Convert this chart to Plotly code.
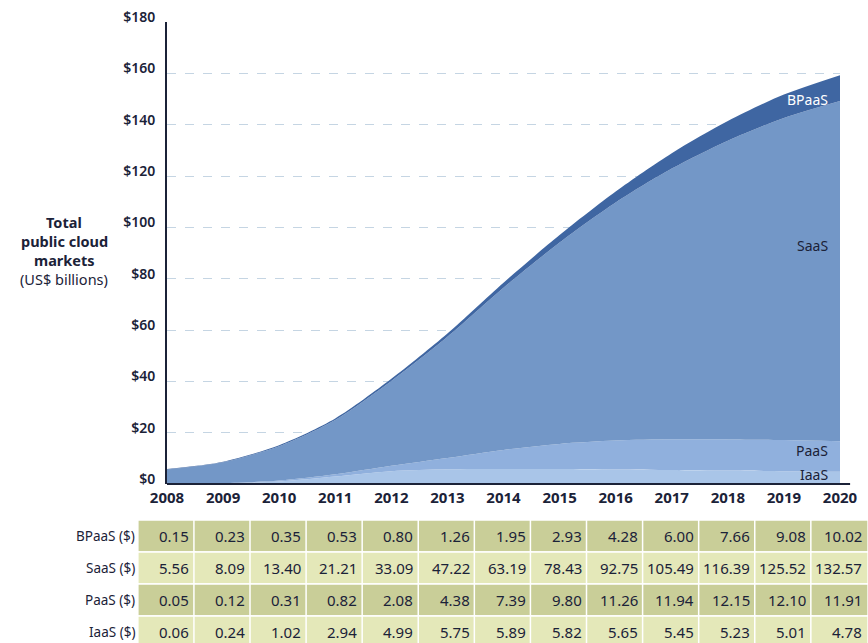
import plotly.graph_objects as go

years = list(range(2008, 2021))
bpaas = [0.15, 0.23, 0.35, 0.53, 0.80, 1.26, 1.95, 2.93, 4.28, 6.00, 7.66, 9.08, 10.02]
saas = [5.56, 8.09, 13.40, 21.21, 33.09, 47.22, 63.19, 78.43, 92.75, 105.49, 116.39, 125.52, 132.57]
paas = [0.05, 0.12, 0.31, 0.82, 2.08, 4.38, 7.39, 9.80, 11.26, 11.94, 12.15, 12.10, 11.91]
iaas = [0.06, 0.24, 1.02, 2.94, 4.99, 5.75, 5.89, 5.82, 5.65, 5.45, 5.23, 5.01, 4.78]
row_labels = ["BPaaS ($)", "SaaS ($)", "PaaS ($)", "IaaS ($)"]
rows = [bpaas, saas, paas, iaas]
y_ticks = list(range(0, 181, 20))

W, H = 868, 643
FONT = "Noto Sans"
DARK = "#1b2238"

fig = go.Figure()
series = [("IaaS", iaas, "#a9c5e8"), ("PaaS", paas, "#90b0dd"),
          ("SaaS", saas, "#7397c7"), ("BPaaS", bpaas, "#3f66a2")]
for name, vals, col in series:
    fig.add_trace(go.Scatter(x=years, y=vals, name=name, stackgroup="one",
                             mode="lines", line=dict(width=0, shape="spline", smoothing=0.8),
                             fillcolor=col, hoverinfo="x+y+name"))

# main axis pixel geometry
x_left, x_right = 167, 840
y_top, y_bot = 22, 484
px_per_year = (x_right - x_left) / (years[-1] - years[0])
r0 = years[0] - x_left / px_per_year
r1 = r0 + W / px_per_year

layout = dict(
    width=W, height=H, margin=dict(l=0, r=0, t=0, b=0, autoexpand=False),
    paper_bgcolor="white", plot_bgcolor="white", showlegend=False,
    font=dict(family=FONT, color=DARK),
    xaxis=dict(domain=[x_left / W, x_right / W], range=[years[0], years[-1]],
               tickvals=years, ticktext=[str(y) for y in years], automargin=False,
               tickfont=dict(size=15, weight="bold", color=DARK),
               showgrid=False, zeroline=False, showline=False, ticks="",
               ticklabelstandoff=3),
    yaxis=dict(domain=[(H - y_bot) / H, (H - y_top) / H], range=[0, 180], automargin=False,
               tickvals=y_ticks, ticktext=["$%d" % v for v in y_ticks],
               tickfont=dict(size=14, color=DARK, weight=600),
               showgrid=True, gridcolor="#c5d5e3", griddash="dash", gridwidth=1,
               zeroline=False, showline=True, linecolor=DARK, linewidth=2,
               ticks="", ticklabelstandoff=7, ticklabelshift=-5),
    xaxis2=dict(domain=[0, 1], range=[r0, r1], visible=False, anchor="y2", automargin=False),
    yaxis2=dict(domain=[0, (H - 520) / H], range=[-0.5 + 123 / 32, -0.5],
                visible=False, anchor="x2", automargin=False),
)
fig.update_layout(**layout)

# x axis line (extends slightly past the data)
fig.add_shape(type="line", xref="x2", yref="paper", x0=years[0], x1=years[-1] + 0.18,
              y0=(H - y_bot) / H, y1=(H - y_bot) / H, line=dict(color=DARK, width=2))

# table cells
row_colors = ["#c9ce98", "#e4e8b9", "#c9ce98", "#e4e8b9"]
shapes = []
annotations = []
for i, (lab, vals) in enumerate(zip(row_labels, rows)):
    for yr, v in zip(years, vals):
        shapes.append(dict(type="rect", xref="x2", yref="y2",
                           x0=yr - 0.52, x1=yr + 0.5, y0=i - 0.5, y1=i + 0.5,
                           fillcolor=row_colors[i], line=dict(color="white", width=1.5),
                           layer="below"))
        annotations.append(dict(xref="x2", yref="y2", x=yr + 0.43, y=i,
                                text="%.2f" % v, showarrow=False, xanchor="right",
                                yanchor="middle", font=dict(size=15, color=DARK)))
    annotations.append(dict(xref="x2", yref="y2", x=years[0] - 0.54, y=i,
                            text=lab, showarrow=False, xanchor="right", yanchor="middle",
                            font=dict(size=13.5, color=DARK)))
for s in shapes:
    fig.add_shape(**s)

# series labels
lab_pos = [("BPaaS", 150, "white"), ("SaaS", 93, DARK), ("PaaS", 13, DARK), ("IaaS", 3.8, DARK)]
for name, yv, col in lab_pos:
    annotations.append(dict(xref="x", yref="y", x=years[-1] - 0.18, y=yv, text=name,
                            showarrow=False, xanchor="right", yanchor="middle",
                            font=dict(size=14, color=col)))

# axis title, one line at a time for tight spacing
title_lines = [("<b>Total</b>", 222), ("<b>public cloud</b>", 241),
               ("<b>markets</b>", 260), ("(US$ billions)", 279)]
for txt, ypx in title_lines:
    annotations.append(dict(xref="paper", yref="paper", x=64 / W, y=(H - ypx) / H,
                            text=txt, showarrow=False, xanchor="center", yanchor="middle",
                            borderpad=0, font=dict(size=14.5, color=DARK)))
fig.update_layout(annotations=annotations)

fig.write_html("out.html", config={"displayModeBar": False},
               post_script="document.body.style.margin='0';document.body.style.overflow='hidden';")
